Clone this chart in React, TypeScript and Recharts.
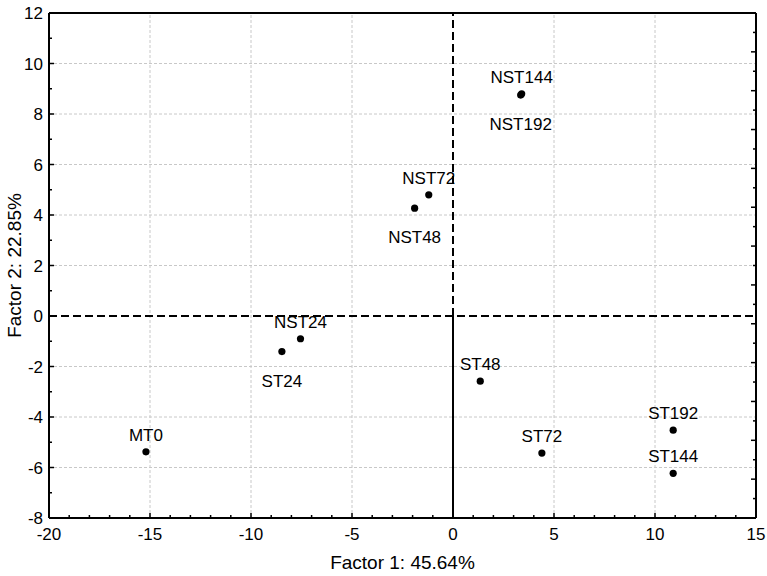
import { Label, ReferenceLine, Scatter, ScatterChart, XAxis, YAxis } from "recharts";

const names = ["MT0", "NST24", "ST24", "NST48", "NST72", "NST144", "NST192", "ST48", "ST72", "ST192", "ST144"];
const factor1 = [-15.2, -7.55, -8.47, -1.9, -1.2, 3.4, 3.35, 1.35, 4.4, 10.9, 10.9];
const factor2 = [-5.38, -0.9, -1.41, 4.27, 4.8, 8.8, 8.75, -2.58, -5.43, -4.52, -6.23];
// which side of the dot the name sits on
const labelSide = ["up", "up", "down", "down", "up", "up", "down", "up", "up", "up", "up"];

const xMajor = [-20, -15, -10, -5, 0, 5, 10, 15];
const yMajor = [-8, -6, -4, -2, 0, 2, 4, 6, 8, 10, 12];
const xTicks = Array.from({ length: 36 }, (_, i) => i - 20);
const yTicks = Array.from({ length: 21 }, (_, i) => i - 8);
// top/right frame have their own tick spacing
const topTicks = Array.from({ length: 44 }, (_, i) => i + 1);
const rightTicks = Array.from({ length: 25 }, (_, i) => i + 1);

const data = names.map((name, i) => ({
  name,
  x: factor1[i],
  y: factor2[i],
  side: labelSide[i],
}));

const FONT = "'Liberation Sans', Arial, sans-serif";

const BottomTick = ({ x, y, payload }: any) => {
  const major = xMajor.includes(payload.value);
  return (
    <g>
      <line x1={x} x2={x} y1={y} y2={y - (major ? 5 : 3)} stroke="#000" strokeWidth={1.5} />
      {major && (
        <text x={x} y={y + 22} textAnchor="middle" fontSize={17} fontFamily={FONT} fill="#000">
          {payload.value}
        </text>
      )}
    </g>
  );
};

const LeftTick = ({ x, y, payload }: any) => {
  const major = yMajor.includes(payload.value);
  return (
    <g>
      <line x1={x} x2={x + (major ? 5 : 3)} y1={y} y2={y} stroke="#000" strokeWidth={1.5} />
      {major && (
        <text x={x - 6} y={y + 6} textAnchor="end" fontSize={17} fontFamily={FONT} fill="#000">
          {payload.value}
        </text>
      )}
    </g>
  );
};

const TopTick = ({ x, y, payload }: any) => {
  const major = payload.value % 5 === 0;
  return <line x1={x} x2={x} y1={y} y2={y + (major ? 5 : 3)} stroke="#000" strokeWidth={1.5} />;
};

const RightTick = ({ x, y, payload }: any) => {
  const major = payload.value % 2 === 0;
  return <line x1={x} x2={x - (major ? 5 : 3)} y1={y} y2={y} stroke="#000" strokeWidth={1.5} />;
};

const Point = ({ cx, cy, payload }: any) => (
  <g>
    <circle cx={cx} cy={cy} r={3.6} fill="#000" />
    <text
      x={cx}
      y={payload.side === "up" ? cy - 11 : cy + 35}
      textAnchor="middle"
      fontSize={17}
      fontFamily={FONT}
      fill="#000"
    >
      {payload.name}
    </text>
  </g>
);

const XTitle = ({ viewBox }: any) => (
  <text x={viewBox.x + viewBox.width / 2} y={viewBox.y + 51} textAnchor="middle" fontSize={19} fontFamily={FONT} fill="#000">
    Factor 1: 45.64%
  </text>
);

const YTitle = ({ viewBox }: any) => {
  const cx = viewBox.x + 14;
  const cy = viewBox.y + viewBox.height / 2;
  return (
    <text
      x={cx}
      y={cy}
      transform={`rotate(-90, ${cx}, ${cy})`}
      textAnchor="middle"
      dominantBaseline="central"
      fontSize={19}
      fontFamily={FONT}
      fill="#000"
    >
      Factor 2: 22.85%
    </text>
  );
};

const gridStyle = { stroke: "#c8c8c8", strokeDasharray: "3 2", strokeWidth: 1 };
const frame = { stroke: "#000", strokeWidth: 2 };

export default function App() {
  return (
    <div style={{ position: "absolute", left: 0, top: 0, background: "#fff" }}>
      <ScatterChart width={767} height={576} margin={{ top: 12, right: 0, bottom: 0, left: 0 }}>
        <XAxis
          type="number"
          dataKey="x"
          domain={[-20, 15]}
          ticks={xTicks}
          interval={0}
          height={58}
          tickSize={0}
          tickMargin={0}
          tickLine={false}
          axisLine={frame}
          tick={BottomTick}
          allowDataOverflow
        >
          <Label content={XTitle} />
        </XAxis>
        <YAxis
          type="number"
          dataKey="y"
          domain={[-8, 12]}
          ticks={yTicks}
          interval={0}
          width={49}
          tickSize={0}
          tickMargin={0}
          tickLine={false}
          axisLine={frame}
          tick={LeftTick}
          allowDataOverflow
        >
          <Label content={YTitle} />
        </YAxis>
        <XAxis
          xAxisId="top"
          orientation="top"
          type="number"
          domain={[0, 44.19]}
          ticks={topTicks}
          interval={0}
          height={1}
          tickSize={0}
          tickMargin={0}
          tickLine={false}
          axisLine={frame}
          tick={TopTick}
          allowDataOverflow
        />
        <YAxis
          yAxisId="right"
          orientation="right"
          type="number"
          domain={[0, 26]}
          ticks={rightTicks}
          interval={0}
          width={11}
          tickSize={0}
          tickMargin={0}
          tickLine={false}
          axisLine={frame}
          tick={RightTick}
          allowDataOverflow
        />

        {xMajor
          .filter((v) => v !== 0 && v !== -20 && v !== 15)
          .map((v) => (
            <ReferenceLine key={`gx${v}`} x={v} {...gridStyle} />
          ))}
        {yMajor
          .filter((v) => v !== 0 && v !== -8 && v !== 12)
          .map((v) => (
            <ReferenceLine key={`gy${v}`} y={v} {...gridStyle} />
          ))}

        <ReferenceLine y={0} stroke="#000" strokeWidth={2} strokeDasharray="8 4" />
        <ReferenceLine
          segment={[
            { x: 0, y: 0 },
            { x: 0, y: 12 },
          ]}
          stroke="#000"
          strokeWidth={2}
          strokeDasharray="8 4"
        />
        <ReferenceLine
          segment={[
            { x: 0, y: -8 },
            { x: 0, y: 0 },
          ]}
          stroke="#000"
          strokeWidth={2}
        />

        <Scatter data={data} shape={Point} isAnimationActive={false} />
      </ScatterChart>
    </div>
  );
}
